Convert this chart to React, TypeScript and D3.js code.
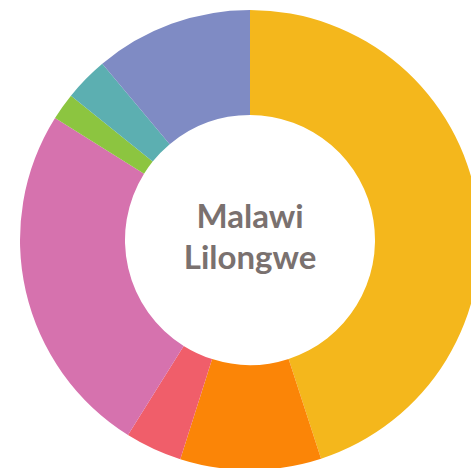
import * as d3 from 'd3';

const labels = ['A', 'B', 'C', 'D', 'E', 'F', 'G'];
const values = [45, 9.9, 4, 25, 1.9, 3.1, 11.1];
const colors = ['#F4B71C', '#FB8507', '#F05E6A', '#D672AE', '#8CC540', '#5CAFB1', '#7F8BC4'];
const titleLines = ['Malawi', 'Lilongwe'];

const width = 471;
const height = 468;
const cx = 250;
const cy = 240;
const outerRadius = 230;
const innerRadius = 125;

export default function App() {
  const data = labels.map((label, i) => ({ label, value: values[i] }));

  const pie = d3.pie<{ label: string; value: number }>()
    .value(d => d.value)
    .sort(null);

  const arc = d3.arc<d3.PieArcDatum<{ label: string; value: number }>>()
    .innerRadius(innerRadius)
    .outerRadius(outerRadius);

  const color = d3.scaleOrdinal<string, string>().domain(labels).range(colors);

  return (
    <div style={{ position: 'fixed', left: 0, top: 0, width, height, background: '#fff' }}>
      <svg width={width} height={height} style={{ display: 'block' }}>
        <g transform={`translate(${cx},${cy})`}>
          {pie(data).map(d => (
            <path key={d.data.label} d={arc(d) || ''} fill={color(d.data.label)} />
          ))}
          {titleLines.map((t, i) => (
            <text
              key={t}
              x={0}
              y={-12 + i * 41}
              textAnchor="middle"
              fill="#7A716F"
              style={{ fontFamily: 'Lato', fontWeight: 700, fontSize: '33px' }}
            >
              {t}
            </text>
          ))}
        </g>
      </svg>
    </div>
  );
}
